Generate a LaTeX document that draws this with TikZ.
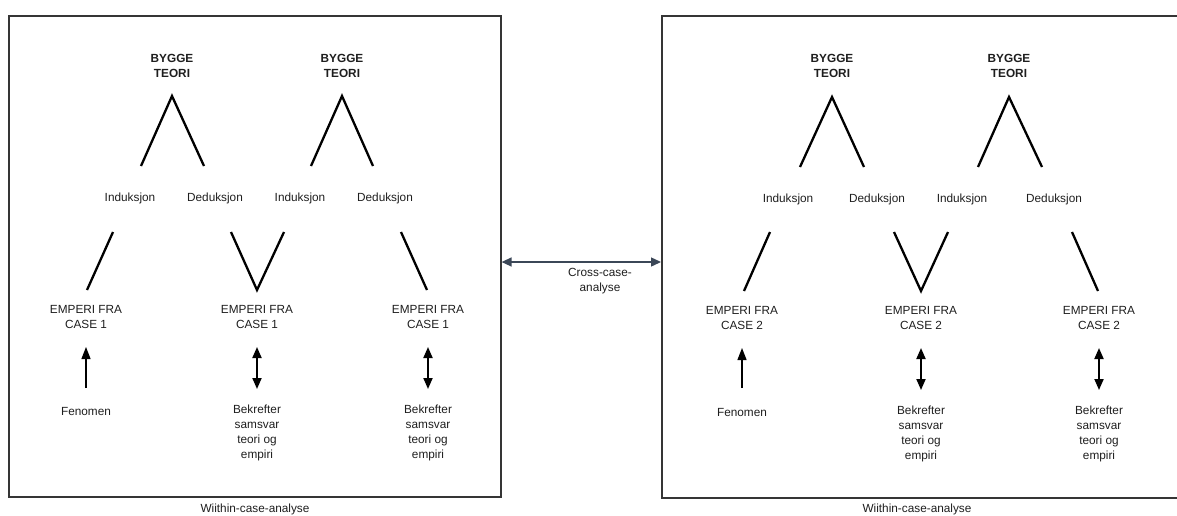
\documentclass[tikz,border=0pt]{standalone}
\usepackage{fontspec}
\setmainfont{Liberation Sans}
\usetikzlibrary{arrows.meta}
\definecolor{ink}{HTML}{1E1E1E}
\definecolor{slate}{HTML}{3B4757}
\tikzset{
  txt/.style={font=\fontsize{11.8}{15}\selectfont, text=ink, align=center, inner sep=0pt},
  head/.style={txt, font=\fontsize{11.8}{15}\selectfont\bfseries},
  frame/.style={draw=ink!90, line width=1.6pt},
  leg/.style={draw=black, line width=2.3pt},
  uparrow/.style={draw=black, line width=1.3pt, -{Triangle[length=12pt,width=9pt]}},
  bothways/.style={draw=black, line width=1.9pt, {Triangle[length=11pt,width=9pt]}-{Triangle[length=11pt,width=9pt]}},
  crossarrow/.style={draw=slate, line width=1.4pt, {Triangle[length=10pt,width=9pt]}-{Triangle[length=10pt,width=9pt]}}
}
\begin{document}
\begin{tikzpicture}[x=1pt,y=-1pt]
\useasboundingbox (0,0) rectangle (1177,515);
\clip (0,0) rectangle (1177,515);

% ---------- case 1 ----------
\node[frame, minimum width=492pt, minimum height=481pt, anchor=north west, inner sep=0pt] (box1) at (8,15) {};
\node[txt] (cap1) at (255,509) {Wiithin-case-analyse};

\node[head] (bt1) at (172,65.5) {BYGGE\\TEORI};
\node[head] (bt2) at (342,65.5) {BYGGE\\TEORI};
\node[txt] (ind1) at (130,198) {Induksjon};
\node[txt] (ded1) at (215,198) {Deduksjon};
\node[txt] (ind2) at (300,198) {Induksjon};
\node[txt] (ded2) at (385,198) {Deduksjon};
\node[txt] (emp1) at (86,316.5) {EMPERI FRA\\CASE 1};
\node[txt] (emp2) at (257,316.5) {EMPERI FRA\\CASE 1};
\node[txt] (emp3) at (428,316.5) {EMPERI FRA\\CASE 1};
\node[txt] (fen1) at (86,411) {Fenomen};
\node[txt] (bek1) at (257,433) {Bekrefter\\samsvar\\teori og\\empiri};
\node[txt] (bek2) at (428,433) {Bekrefter\\samsvar\\teori og\\empiri};

\coordinate (p1) at (172,96);  \coordinate (p1l) at (141,166); \coordinate (p1r) at (204,166);
\coordinate (p2) at (342,96);  \coordinate (p2l) at (311,166); \coordinate (p2r) at (373,166);
\draw[leg] (p1l) -- (p1) -- (p1r);
\draw[leg] (p2l) -- (p2) -- (p2r);
\coordinate (q1t) at (113,232); \coordinate (q1b) at (87,290);
\coordinate (v1l) at (231,232); \coordinate (v1b) at (257,290); \coordinate (v1r) at (284,232);
\coordinate (q3t) at (401,232); \coordinate (q3b) at (427,290);
\draw[leg] (q1t) -- (q1b);
\draw[leg] (v1l) -- (v1b) -- (v1r);
\draw[leg] (q3t) -- (q3b);

\coordinate (a1s) at (86,388); \coordinate (a1e) at (86,347);
\draw[uparrow] (a1s) -- (a1e);
\coordinate (a2s) at (257,347); \coordinate (a2e) at (257,389);
\draw[bothways] (a2s) -- (a2e);
\coordinate (a3s) at (428,347); \coordinate (a3e) at (428,389);
\draw[bothways] (a3s) -- (a3e);

% ---------- case 2 ----------
\node[frame, minimum width=530pt, minimum height=482pt, anchor=north west, inner sep=0pt] (box2) at (661,15) {};
\node[txt] (cap2) at (917,509) {Wiithin-case-analyse};

\node[head] (bt3) at (832,66) {BYGGE\\TEORI};
\node[head] (bt4) at (1009,66) {BYGGE\\TEORI};
\node[txt] (ind3) at (788,199) {Induksjon};
\node[txt] (ded3) at (877,199) {Deduksjon};
\node[txt] (ind4) at (962,199) {Induksjon};
\node[txt] (ded4) at (1054,199) {Deduksjon};
\node[txt] (emp4) at (742,317.5) {EMPERI FRA\\CASE 2};
\node[txt] (emp5) at (921,317.5) {EMPERI FRA\\CASE 2};
\node[txt] (emp6) at (1099,317.5) {EMPERI FRA\\CASE 2};
\node[txt] (fen2) at (742,412) {Fenomen};
\node[txt] (bek3) at (921,434) {Bekrefter\\samsvar\\teori og\\empiri};
\node[txt] (bek4) at (1099,434) {Bekrefter\\samsvar\\teori og\\empiri};

\coordinate (p3) at (832,97);  \coordinate (p3l) at (800,167); \coordinate (p3r) at (864,167);
\coordinate (p4) at (1009,97); \coordinate (p4l) at (978,167); \coordinate (p4r) at (1042,167);
\draw[leg] (p3l) -- (p3) -- (p3r);
\draw[leg] (p4l) -- (p4) -- (p4r);
\coordinate (q4t) at (770,232); \coordinate (q4b) at (744,291);
\coordinate (v2l) at (894,232); \coordinate (v2b) at (921,291); \coordinate (v2r) at (948,232);
\coordinate (q6t) at (1072,232); \coordinate (q6b) at (1098,291);
\draw[leg] (q4t) -- (q4b);
\draw[leg] (v2l) -- (v2b) -- (v2r);
\draw[leg] (q6t) -- (q6b);

\coordinate (a4s) at (742,388); \coordinate (a4e) at (742,348);
\draw[uparrow] (a4s) -- (a4e);
\coordinate (a5s) at (921,348); \coordinate (a5e) at (921,390);
\draw[bothways] (a5s) -- (a5e);
\coordinate (a6s) at (1099,348); \coordinate (a6e) at (1099,390);
\draw[bothways] (a6s) -- (a6e);

% ---------- link between the two cases ----------
\draw[crossarrow] (box1.east |- 0,262) -- (box2.west |- 0,262);
\node[txt] (cross) at (600,281.5) {Cross-case-\\analyse};
\end{tikzpicture}
\end{document}
